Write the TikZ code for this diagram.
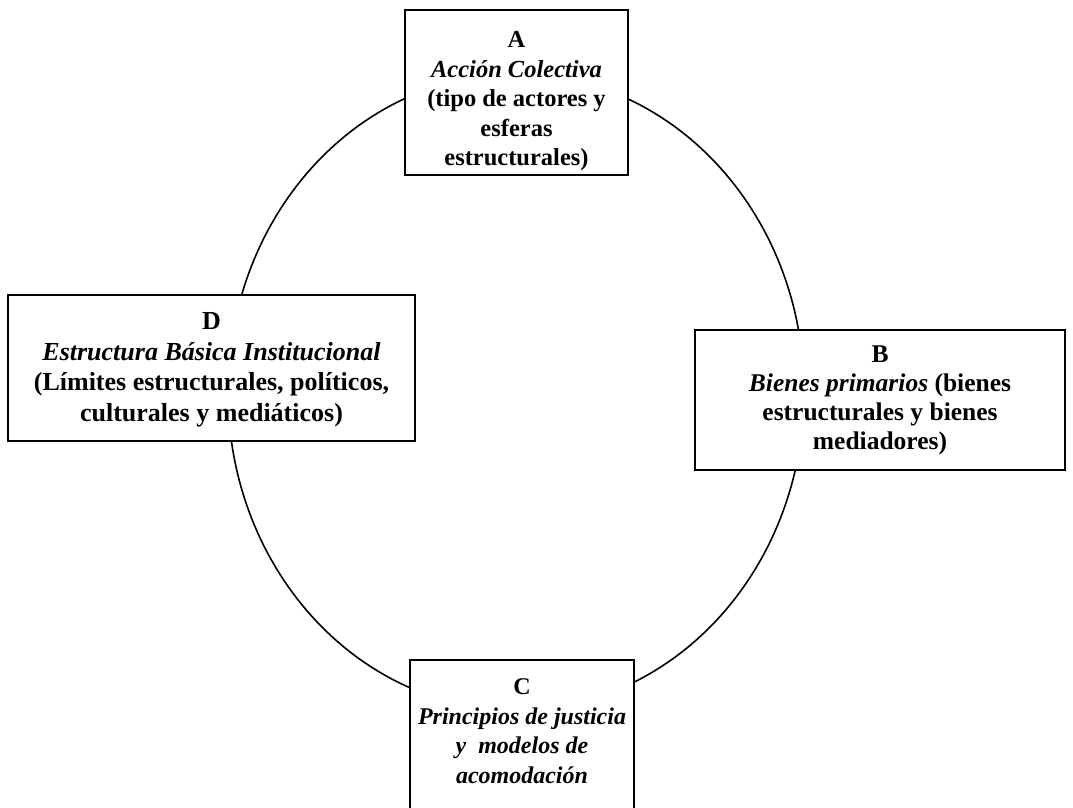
\documentclass[tikz,border=0pt]{standalone}
\usepackage{fontspec}
\setmainfont{Liberation Serif}
\begin{document}
\begin{tikzpicture}[x=1pt,y=-1pt,
  box/.style={draw=black,line width=2.2pt,fill=white,inner sep=0pt},
  txt/.style={align=center,inner sep=0pt,font=\bfseries}]
\useasboundingbox (0,0) rectangle (1073,808);
\fill[white] (0,0) rectangle (1073,808);
\draw[line width=1.6pt] (516,392) ellipse [x radius=288, y radius=318];
\node[box,minimum width=223pt,minimum height=165pt] (A) at (516.5,92.5) {};
\node[txt,font=\fontsize{24.5}{29.5}\selectfont\bfseries] (At) at ([yshift=-9pt]A.center)
  {A\\ \textit{Acción Colectiva}\\ (tipo de actores y\\ esferas\\ estructurales)};
\node[box,minimum width=407pt,minimum height=146pt] (D) at (211.5,368) {};
\node[txt,font=\fontsize{26}{30.5}\selectfont\bfseries] (Dt) at ([yshift=-2pt]D.center)
  {D\\ \textit{Estructura Básica Institucional}\\ (Límites estructurales, políticos,\\ culturales y mediáticos)};
\node[box,minimum width=370pt,minimum height=140pt] (B) at (880,400) {};
\node[txt,font=\fontsize{25.5}{29}\selectfont\bfseries] (Bt) at (B.center)
  {B\\ \textit{Bienes primarios} (bienes\\ estructurales y bienes\\ mediadores)};
\node[box,minimum width=224pt,minimum height=150pt] (C) at (522,735) {};
\node[txt,font=\fontsize{24}{29.5}\selectfont\bfseries] (Ct) at ([yshift=4pt]C.center)
  {C\\ \textit{Principios de justicia}\\ \textit{y\ \ modelos de}\\ \textit{acomodación}};
\end{tikzpicture}
\end{document}
